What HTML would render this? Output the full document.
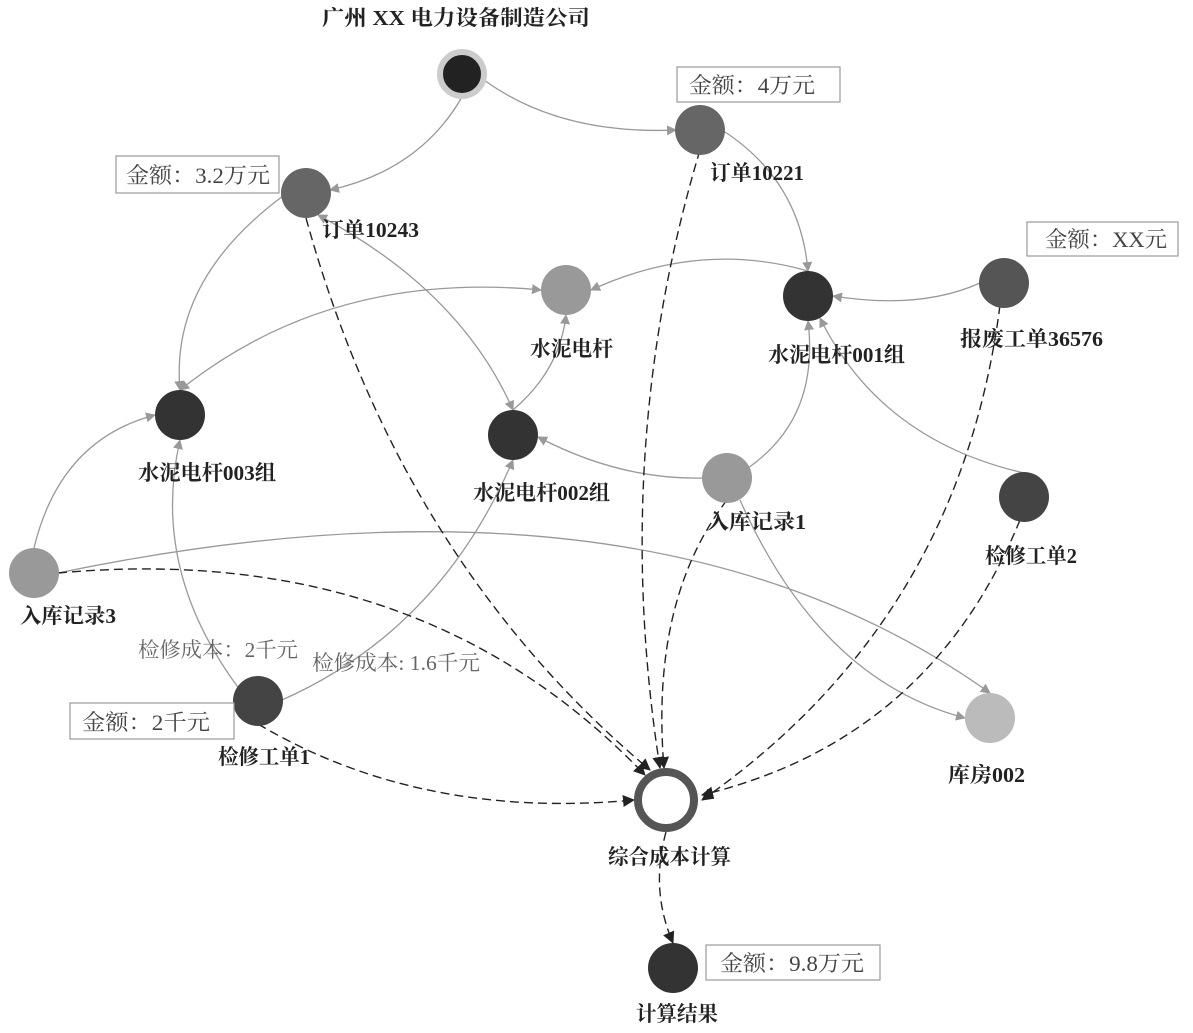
<!DOCTYPE html>
<html><head><meta charset="utf-8"><style>
html,body{margin:0;padding:0;background:#fff;}
svg text{font-family:"Liberation Serif","Noto Serif CJK SC",serif;}
</style></head><body>
<svg width="1193" height="1028" viewBox="0 0 1193 1028" xmlns="http://www.w3.org/2000/svg">
<defs>
<marker id="ag" markerWidth="10" markerHeight="10" refX="9" refY="5" orient="auto" markerUnits="userSpaceOnUse"><path d="M0,0 L10,5 L0,10 Z" fill="#999"/></marker>
<marker id="ags" markerWidth="10" markerHeight="10" refX="1" refY="5" orient="auto" markerUnits="userSpaceOnUse"><path d="M10,0 L0,5 L10,10 Z" fill="#999"/></marker>
<marker id="ad" markerWidth="12" markerHeight="12" refX="11" refY="6" orient="auto" markerUnits="userSpaceOnUse"><path d="M0,0 L12,6 L0,12 Z" fill="#222"/></marker>
</defs>
<g fill="none" stroke="#999" stroke-width="1.3">
<path d="M484,80 Q560,135 676,130" marker-end="url(#ag)"/>
<path d="M462,97 Q420,170 330,190" marker-end="url(#ag)"/>
<path d="M283,196 Q170,280 180,390" marker-end="url(#ag)"/>
<path d="M318,215 Q460,290 513,410" marker-start="url(#ags)" marker-end="url(#ag)"/>
<path d="M722,130 Q800,180 808,271" marker-end="url(#ag)"/>
<path d="M180,390 Q330,270 541,290" marker-start="url(#ags)" marker-end="url(#ag)"/>
<path d="M808,271 Q700,240 591,290" marker-end="url(#ag)"/>
<path d="M980,283 Q920,310 833,296" marker-end="url(#ag)"/>
<path d="M513,410 Q560,370 566,315" marker-end="url(#ag)"/>
<path d="M703,478 Q620,480 538,437" marker-end="url(#ag)"/>
<path d="M745,470 Q820,420 808,321" marker-end="url(#ag)"/>
<path d="M1024,473 Q880,440 820,318" marker-end="url(#ag)"/>
<path d="M34,548 Q60,440 155,415" marker-end="url(#ag)"/>
<path d="M240,690 Q150,570 180,440" marker-end="url(#ag)"/>
<path d="M282,700 Q440,630 513,460" marker-end="url(#ag)"/>
<path d="M58,573 Q650,450 990,693" marker-end="url(#ag)"/>
<path d="M740,500 Q820,680 965,718" marker-end="url(#ag)"/>
</g>
<g fill="none" stroke="#222" stroke-width="1.4" stroke-dasharray="9,5">
<path d="M306,218 Q400,560 650,770" marker-end="url(#ad)"/>
<path d="M700,150 Q610,450 660,768" marker-end="url(#ad)"/>
<path d="M727,500 Q650,600 664,768" marker-end="url(#ad)"/>
<path d="M58,573 Q420,540 645,775" marker-end="url(#ad)"/>
<path d="M258,724 Q420,820 634,800" marker-end="url(#ad)"/>
<path d="M1000,305 Q960,620 702,800" marker-end="url(#ad)"/>
<path d="M1020,520 Q930,740 702,795" marker-end="url(#ad)"/>
<path d="M666,832 Q650,890 673,943" marker-end="url(#ad)"/>
</g>
<circle cx="462" cy="74" r="22" fill="#222" stroke="#ccc" stroke-width="6"/>
<circle cx="700" cy="130" r="25" fill="#666"/>
<circle cx="306" cy="193" r="25" fill="#666"/>
<circle cx="566" cy="290" r="25" fill="#999"/>
<circle cx="808" cy="296" r="25" fill="#333"/>
<circle cx="1004" cy="283" r="25" fill="#555"/>
<circle cx="180" cy="415" r="25" fill="#333"/>
<circle cx="513" cy="435" r="25" fill="#333"/>
<circle cx="727" cy="478" r="25" fill="#999"/>
<circle cx="1024" cy="497" r="25" fill="#444"/>
<circle cx="34" cy="573" r="25" fill="#999"/>
<circle cx="258" cy="701" r="25" fill="#444"/>
<circle cx="990" cy="718" r="25" fill="#bbb"/>
<circle cx="666" cy="800" r="28" fill="#fff" stroke="#555" stroke-width="8"/>
<circle cx="673" cy="968" r="25" fill="#333"/>
<g fill="#fff" stroke="#999" stroke-width="1.2">
<rect x="677" y="67" width="163" height="35"/>
<rect x="116" y="156" width="163" height="37"/>
<rect x="1027" y="222" width="151" height="34"/>
<rect x="70" y="703" width="164" height="36"/>
<rect x="706" y="945" width="174" height="35"/>
</g>
<g font-size="22" fill="#444">
<text x="689" y="93" textLength="126" lengthAdjust="spacingAndGlyphs">金额：4万元</text>
<text x="126" y="183" textLength="144" lengthAdjust="spacingAndGlyphs">金额：3.2万元</text>
<text x="1045" y="247" textLength="122" lengthAdjust="spacingAndGlyphs">金额：XX元</text>
<text x="82" y="730" textLength="128" lengthAdjust="spacingAndGlyphs">金额：2千元</text>
<text x="720" y="971" textLength="144" lengthAdjust="spacingAndGlyphs">金额：9.8万元</text>
</g>
<g font-size="21" fill="#222" font-weight="bold">
<text x="322" y="25" textLength="268" lengthAdjust="spacingAndGlyphs">广州 XX 电力设备制造公司</text>
<text x="710" y="180" textLength="94" lengthAdjust="spacingAndGlyphs">订单10221</text>
<text x="322" y="237" textLength="97" lengthAdjust="spacingAndGlyphs">订单10243</text>
<text x="530" y="356" textLength="83" lengthAdjust="spacingAndGlyphs">水泥电杆</text>
<text x="768" y="362" textLength="137" lengthAdjust="spacingAndGlyphs">水泥电杆001组</text>
<text x="960" y="346" textLength="143" lengthAdjust="spacingAndGlyphs">报废工单36576</text>
<text x="138" y="480" textLength="138" lengthAdjust="spacingAndGlyphs">水泥电杆003组</text>
<text x="473" y="500" textLength="137" lengthAdjust="spacingAndGlyphs">水泥电杆002组</text>
<text x="707" y="529" textLength="99" lengthAdjust="spacingAndGlyphs">入库记录1</text>
<text x="985" y="563" textLength="92" lengthAdjust="spacingAndGlyphs">检修工单2</text>
<text x="20" y="623" textLength="96" lengthAdjust="spacingAndGlyphs">入库记录3</text>
<text x="218" y="764" textLength="92" lengthAdjust="spacingAndGlyphs">检修工单1</text>
<text x="948" y="782" textLength="77" lengthAdjust="spacingAndGlyphs">库房002</text>
<text x="608" y="864" textLength="123" lengthAdjust="spacingAndGlyphs">综合成本计算</text>
<text x="636" y="1021" textLength="82" lengthAdjust="spacingAndGlyphs">计算结果</text>
</g>
<g font-size="21" fill="#666">
<text x="138" y="657" textLength="160" lengthAdjust="spacingAndGlyphs">检修成本：2千元</text>
<text x="312" y="670" textLength="168" lengthAdjust="spacingAndGlyphs">检修成本: 1.6千元</text>
</g>
</svg>
</body></html>
